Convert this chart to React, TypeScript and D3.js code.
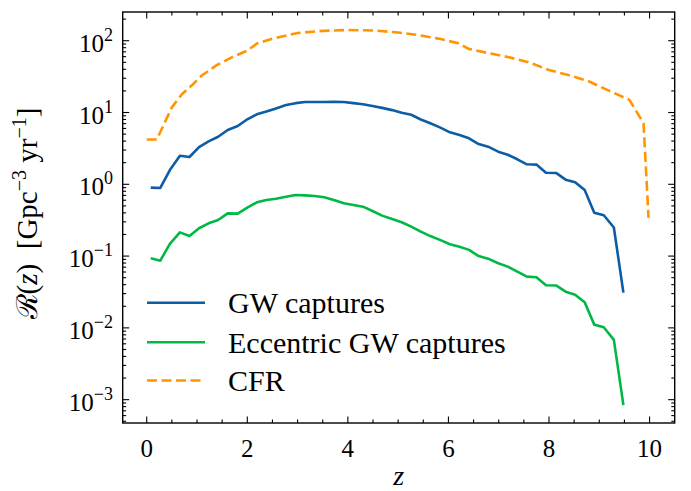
import React from "react";
import * as d3 from "d3";

const W = 691;
const H = 491;
const plot = { left: 122.7, right: 674.7, top: 12, bottom: 423 };

// Redshift bins shared by the two capture-rate series
const zCaptures = [
  0.08, 0.27, 0.46, 0.66, 0.85, 1.04, 1.23, 1.42, 1.61, 1.81,
  2.0, 2.19, 2.38, 2.57, 2.77, 2.96, 3.15, 3.34, 3.53, 3.72,
  3.92, 4.11, 4.3, 4.49, 4.68, 4.88, 5.07, 5.26, 5.45, 5.64,
  5.83, 6.03, 6.22, 6.41, 6.6, 6.79, 6.99, 7.18, 7.37, 7.56,
  7.75, 7.94, 8.14, 8.33, 8.52, 8.71, 8.9, 9.09, 9.29, 9.48,
];

const gwCaptures = [
  0.9, 0.89, 1.58, 2.5, 2.4, 3.3, 3.97, 4.6, 5.7, 6.49,
  8.04, 9.43, 10.3, 11.4, 12.7, 13.5, 14.0, 14.0, 14.0, 14.1,
  14.0, 13.5, 13.0, 12.3, 11.6, 10.8, 9.9, 9.3, 8.0, 7.07,
  6.2, 5.3, 4.86, 4.37, 3.64, 3.34, 2.85, 2.58, 2.23, 1.9,
  1.88, 1.45, 1.44, 1.16, 1.07, 0.83, 0.4, 0.37, 0.25, 0.031,
];

const eccentricCaptures = [
  0.093, 0.0863, 0.148, 0.214, 0.19, 0.244, 0.286, 0.318, 0.394, 0.39,
  0.472, 0.562, 0.604, 0.63, 0.67, 0.71, 0.7, 0.687, 0.66, 0.604,
  0.543, 0.515, 0.488, 0.425, 0.366, 0.329, 0.296, 0.257, 0.219, 0.19,
  0.168, 0.146, 0.135, 0.122, 0.1, 0.092, 0.0795, 0.0713, 0.0607, 0.0517,
  0.0507, 0.0392, 0.039, 0.0319, 0.029, 0.0227, 0.0111, 0.0102, 0.0068, 0.00084,
];

// Cluster formation rate
const zCfr = [
  0.0, 0.2, 0.5, 0.7, 0.9, 1.1, 1.4, 1.7, 2.0, 2.2,
  2.5, 2.8, 3.0, 3.5, 4.0, 4.5, 5.0, 5.4, 5.8, 6.2,
  6.4, 6.8, 7.2, 7.6, 8.0, 8.4, 8.8, 9.2, 9.6, 9.88, 9.98,
];
const cfr = [
  4.2, 4.2, 11.8, 18, 24, 33, 46, 59, 73, 92,
  107, 119, 128, 137, 141, 139, 130, 120, 107, 92,
  77, 67, 59, 50, 39, 33, 27, 20, 15, 7.1, 0.34,
];

const xTicks = [0, 2, 4, 6, 8, 10];
const yExponents = [-3, -2, -1, 0, 1, 2];
const seriesNames = ["GW captures", "Eccentric GW captures", "CFR"];
const seriesColors = ["#0C5DA5", "#00B945", "#FF9500"];

const FONT = "Liberation Serif, Times New Roman, DejaVu Serif, serif";
const textStyle: React.CSSProperties = { fontFamily: FONT };

export default function App() {
  const x = d3.scaleLinear().domain([-0.478, 10.5]).range([plot.left, plot.right]);
  const y = d3
    .scaleLog()
    .domain([Math.pow(10, -3.325), Math.pow(10, 2.4)])
    .range([plot.bottom, plot.top]);

  const line = d3
    .line<[number, number]>()
    .x((d) => x(d[0]))
    .y((d) => y(d[1]));

  const series = [
    { name: seriesNames[0], color: seriesColors[0], pts: zCaptures.map((z, i) => [z, gwCaptures[i]] as [number, number]), dash: undefined },
    { name: seriesNames[1], color: seriesColors[1], pts: zCaptures.map((z, i) => [z, eccentricCaptures[i]] as [number, number]), dash: undefined },
    { name: seriesNames[2], color: seriesColors[2], pts: zCfr.map((z, i) => [z, cfr[i]] as [number, number]), dash: "10,4.5" },
  ];

  const [yLo, yHi] = y.domain();
  const yMinor: number[] = [];
  for (let e = -4; e <= 2; e++) {
    for (let m = 2; m <= 9; m++) {
      const v = m * Math.pow(10, e);
      if (v >= yLo && v <= yHi) yMinor.push(v);
    }
  }
  const xMinor = d3.range(0, 10.51, 0.5).filter((v) => v % 2 !== 0 && x(v) < plot.right - 0.5);

  const majorLen = 6.5;
  const minorLen = 3.4;
  const tickStroke = { stroke: "#000", strokeWidth: 1.1 };

  const legendRows = [302.7, 342.3, 380.5];

  return (
    <svg
      width={W}
      height={H}
      viewBox={`0 0 ${W} ${H}`}
      style={{ position: "absolute", left: 0, top: 0, display: "block", background: "#fff", fontFamily: FONT }}
    >
      <rect x={0} y={0} width={W} height={H} fill="#fff" />
      <defs>
        <clipPath id="plot-clip">
          <rect x={plot.left} y={plot.top} width={plot.right - plot.left} height={plot.bottom - plot.top} />
        </clipPath>
      </defs>

      <g clipPath="url(#plot-clip)">
        {series.map((s) => (
          <path
            key={s.name}
            d={line(s.pts) || ""}
            fill="none"
            stroke={s.color}
            strokeWidth={2.6}
            strokeLinejoin="round"
            strokeDasharray={s.dash}
          />
        ))}
      </g>

      {/* x ticks, bottom and top */}
      {xTicks.map((t) => (
        <g key={`xt${t}`} {...tickStroke}>
          <line x1={x(t)} x2={x(t)} y1={plot.bottom} y2={plot.bottom - majorLen} />
          <line x1={x(t)} x2={x(t)} y1={plot.top} y2={plot.top + majorLen} />
        </g>
      ))}
      {xMinor.map((t) => (
        <g key={`xm${t}`} {...tickStroke}>
          <line x1={x(t)} x2={x(t)} y1={plot.bottom} y2={plot.bottom - minorLen} />
          <line x1={x(t)} x2={x(t)} y1={plot.top} y2={plot.top + minorLen} />
        </g>
      ))}
      {/* y ticks, left and right */}
      {yExponents.map((e) => {
        const yy = y(Math.pow(10, e));
        return (
          <g key={`yt${e}`} {...tickStroke}>
            <line x1={plot.left} x2={plot.left + majorLen} y1={yy} y2={yy} />
            <line x1={plot.right} x2={plot.right - majorLen} y1={yy} y2={yy} />
          </g>
        );
      })}
      {yMinor.map((v, i) => (
        <g key={`ym${i}`} {...tickStroke}>
          <line x1={plot.left} x2={plot.left + minorLen} y1={y(v)} y2={y(v)} />
          <line x1={plot.right} x2={plot.right - minorLen} y1={y(v)} y2={y(v)} />
        </g>
      ))}

      {/* frame */}
      <rect
        x={plot.left}
        y={plot.top}
        width={plot.right - plot.left}
        height={plot.bottom - plot.top}
        fill="none"
        stroke="#000"
        strokeWidth={1.4}
      />

      {/* x tick labels */}
      {xTicks.map((t) => (
        <text key={`xl${t}`} x={x(t)} y={457} textAnchor="middle" fontSize={25} fill="#000" style={textStyle}>
          {t}
        </text>
      ))}
      <text
        x={(plot.left + plot.right) / 2}
        y={485}
        textAnchor="middle"
        fontSize={28}
        fontStyle="italic"
        fill="#000"
        style={textStyle}
      >
        z
      </text>

      {/* y tick labels */}
      {yExponents.map((e) => {
        const yy = y(Math.pow(10, e));
        return (
          <text key={`yl${e}`} x={113} y={yy + 11} textAnchor="end" fontSize={25} fill="#000" style={textStyle}>
            10
            <tspan dy={-11} fontSize={18}>
              {e < 0 ? `\u2212${-e}` : `${e}`}
            </tspan>
          </text>
        );
      })}

      {/* y axis label */}
      <text
        transform={`translate(37,${(plot.top + plot.bottom) / 2 - 4}) rotate(-90)`}
        textAnchor="middle"
        fontSize={29}
        fill="#000"
        style={textStyle}
      >
        {"\u211B("}
        <tspan fontStyle="italic">z</tspan>
        {")\u00a0\u00a0[Gpc"}
        <tspan dy={-11} fontSize={20}>{"\u22123"}</tspan>
        <tspan dy={11}>{"\u00a0yr"}</tspan>
        <tspan dy={-11} fontSize={20}>{"\u22121"}</tspan>
        <tspan dy={11}>{"]"}</tspan>
      </text>

      {/* legend */}
      {series.map((s, i) => (
        <g key={`lg${i}`}>
          <line
            x1={147}
            x2={205}
            y1={legendRows[i]}
            y2={legendRows[i]}
            stroke={s.color}
            strokeWidth={2.6}
            strokeDasharray={s.dash}
          />
          <text x={228} y={legendRows[i] + 10.5} fontSize={30} fill="#000" style={textStyle}>
            {s.name}
          </text>
        </g>
      ))}
    </svg>
  );
}
